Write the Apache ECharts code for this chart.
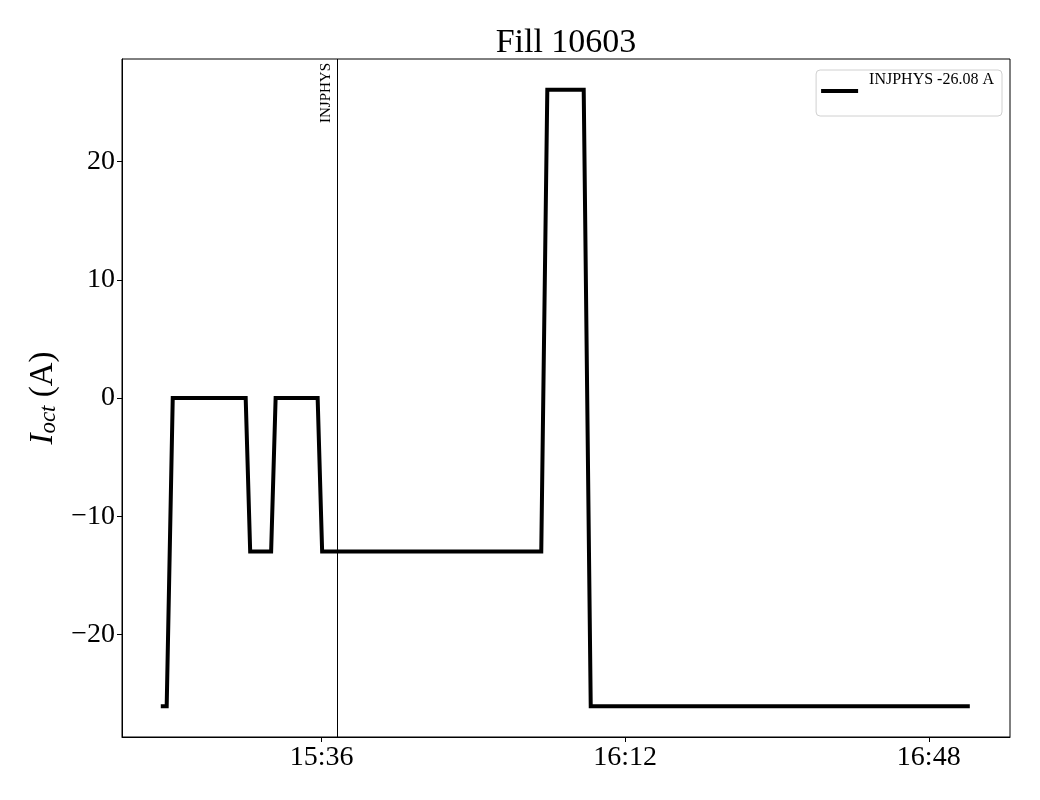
<!DOCTYPE html>
<html>
<head>
<meta charset="utf-8">
<script src="https://cdn.jsdelivr.net/npm/echarts@6/dist/echarts.min.js"></script>
<style>
  html, body { margin: 0; padding: 0; background: #fff; }
  #chart { width: 1040px; height: 800px; }
</style>
</head>
<body>
<div id="chart"></div>
<script>
// ---- data ----
const times = ['15:16:56','15:17:38','15:18:21','15:27:00','15:27:32','15:30:01','15:30:33','15:35:32','15:36:04','16:02:03','16:02:46','16:07:05','16:07:55','16:52:52'];
const current = [-26.08,-26.08,0,0,-13,-13,0,0,-13,-13,26.08,26.08,-26.08,-26.08];
const xTickLabels = ['15:36','16:12','16:48'];
const yTickValues = [-20,-10,0,10,20];
const injTime = '15:37:54';
const injLabel = 'INJPHYS';
const legendLabel = 'INJPHYS -26.08 A';
const titleText = 'Fill 10603';
const xRange = ['15:12:20','16:57:38'];
const yRange = [-28.69, 28.69];

function toMin(s) {
  const p = s.split(':').map(Number);
  return p[0] * 60 + p[1] + (p[2] || 0) / 60;
}
function fmtMin(v) {
  const h = Math.floor(v / 60 + 1e-9);
  const m = Math.round(v - h * 60);
  return h + ':' + String(m).padStart(2, '0');
}

const seriesData = times.map((t, i) => [toMin(t), current[i]]);
const serif = '"Liberation Serif", "DejaVu Serif", serif';

const chart = echarts.init(document.getElementById('chart'), null, { renderer: 'canvas' });
chart.setOption({
  animation: false,
  backgroundColor: '#fff',
  title: {
    text: titleText,
    left: 566,
    top: 26,
    textAlign: 'center',
    padding: 0,
    textStyle: { fontFamily: serif, fontSize: 34, fontWeight: 'normal', color: '#000' }
  },
  legend: {
    right: 38,
    top: 70,
    orient: 'vertical',
    icon: 'rect',
    itemWidth: 37,
    itemHeight: 4,
    padding: [2, 8, 6, 5],
    borderColor: '#d0d0d0',
    borderWidth: 1,
    borderRadius: 4,
    backgroundColor: '#fff',
    formatter: '{a|{name}}',
    textStyle: {
      rich: {
        a: { fontFamily: serif, fontSize: 16, lineHeight: 18, color: '#000', padding: [0, 0, 22, 6] }
      }
    },
    data: [legendLabel]
  },
  grid: {
    left: 122, right: 30, top: 59, bottom: 63,
    show: true, borderColor: '#000', borderWidth: 1,
    containLabel: false
  },
  xAxis: {
    type: 'value',
    min: toMin(xRange[0]),
    max: toMin(xRange[1]),
    axisLine: { show: true, onZero: false, lineStyle: { color: '#000', width: 1 } },
    axisTick: { show: true, inside: false, length: 5, lineStyle: { color: '#000' }, customValues: xTickLabels.map(toMin) },
    axisLabel: {
      customValues: xTickLabels.map(toMin),
      formatter: v => fmtMin(v),
      fontFamily: serif, fontSize: 28, color: '#000', margin: 7
    },
    splitLine: { show: false }
  },
  yAxis: {
    type: 'value',
    min: yRange[0],
    max: yRange[1],
    name: '{i|I}{s|oct}{n| (A)}',
    nameLocation: 'middle',
    nameRotate: 90,
    nameGap: 60,
    nameTextStyle: {
      rich: {
        i: { fontFamily: serif, fontStyle: 'italic', fontSize: 33, color: '#000' },
        s: { fontFamily: serif, fontStyle: 'italic', fontSize: 23, color: '#000', verticalAlign: 'bottom', padding: [10, 0, 0, 0] },
        n: { fontFamily: serif, fontSize: 33, color: '#000' }
      }
    },
    axisLine: { show: true, onZero: false, lineStyle: { color: '#000', width: 1 } },
    axisTick: { show: true, inside: false, length: 5, lineStyle: { color: '#000' }, customValues: yTickValues },
    axisLabel: {
      customValues: yTickValues,
      formatter: v => (v < 0 ? '\u2212' + Math.abs(v) : String(v)),
      fontFamily: serif, fontSize: 28, color: '#000', margin: 7
    },
    splitLine: { show: false }
  },
  series: [{
    name: legendLabel,
    type: 'line',
    data: seriesData,
    showSymbol: false,
    symbol: 'none',
    lineStyle: { color: '#000', width: 4, join: 'miter' },
    itemStyle: { color: '#000' },
    markLine: {
      silent: true,
      symbol: 'none',
      lineStyle: { color: '#000', width: 1, type: 'solid' },
      label: {
        show: true,
        formatter: injLabel,
        position: 'insideEndTop',
        distance: 4,
        fontFamily: serif, fontSize: 15, color: '#000'
      },
      data: [{ xAxis: toMin(injTime) }]
    }
  }]
});
</script>
</body>
</html>
